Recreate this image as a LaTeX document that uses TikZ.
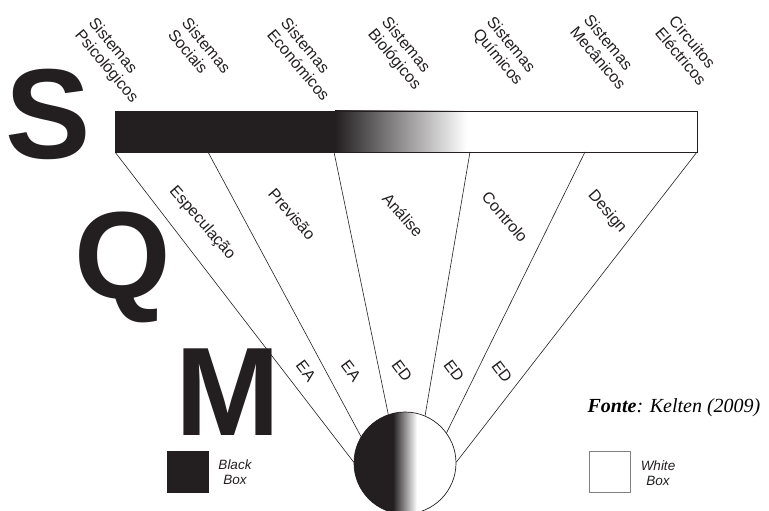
\documentclass[tikz,border=0pt]{standalone}
\usepackage{fontspec}
\setmainfont{Liberation Sans}
\newfontfamily\timesfont{Liberation Serif}
\definecolor{ink}{RGB}{35,31,32}
\tikzset{
  syslbl/.style={font=\fontsize{16}{18}\selectfont, text=ink, rotate=-50, align=left, inner sep=0, anchor=north west},
  raylbl/.style={font=\fontsize{16}{18}\selectfont, text=ink, rotate=-49, inner sep=0},
  eelbl/.style={font=\fontsize{16}{18}\selectfont, text=ink, rotate=-53, inner sep=0},
  bigletter/.style={text=ink, inner sep=0, anchor=base},
  ray/.style={draw=ink, line width=0.6pt},
  boxlbl/.style={font=\fontsize{13.5}{15.5}\selectfont\itshape, text=ink, align=center, inner sep=0},
}
\begin{document}
\begin{tikzpicture}[x=1pt,y=-1pt]
\useasboundingbox (0,0) rectangle (769,511);
% bar
\fill[ink] (115,111) rectangle (335,152);
\shade[left color=ink,right color=white] (335,111) rectangle (467,152);
\draw[ink, line width=0.6pt] (115,111) rectangle (697,152);
\coordinate (b1) at (115,152);
\coordinate (b2) at (208,152);
\coordinate (b3) at (334,152);
\coordinate (b4) at (470,152);
\coordinate (b5) at (585,152);
\coordinate (b6) at (697,152);
% circle
\begin{scope}
\clip (405,463) circle [radius=51pt];
\fill[ink] (350,405) rectangle (393,520);
\shade[left color=ink,right color=white] (393,405) rectangle (417,520);
\end{scope}
\node[circle, draw=ink, line width=0.7pt, minimum size=102pt, inner sep=0] (c) at (405,463) {};
% rays
\draw[ray] (b1) -- (c.179);
\draw[ray] (b2) -- (c.149);
\draw[ray] (b3) -- (c.109);
\draw[ray] (b4) -- (c.67);
\draw[ray] (b5) -- (c.36);
\draw[ray] (b6) -- (c.1);
% system labels
\node[syslbl] (s1) at (97,16) {Sistemas\\Psicológicos};
\node[syslbl] (s2) at (190,16) {Sistemas\\Sociais};
\node[syslbl] (s3) at (289,16) {Sistemas\\Económicos};
\node[syslbl] (s4) at (390,15) {Sistemas\\Biológicos};
\node[syslbl] (s5) at (495,15) {Sistemas\\Químicos};
\node[syslbl] (s6) at (592,13) {Sistemas\\Mecânicos};
\node[syslbl] (s7) at (677,14) {Circuitos\\Eléctricos};
% ray labels
\node[raylbl] (r1) at (202,223) {Especulação};
\node[raylbl] (r2) at (292,214) {Previsão};
\node[raylbl] (r3) at (403,215) {Análise};
\node[raylbl] (r4) at (505,217) {Controlo};
\node[raylbl] (r5) at (607,212) {Design};
\node[eelbl] (e1) at (306,371) {EA};
\node[eelbl] (e2) at (351,371) {EA};
\node[eelbl] (e3) at (402,371) {ED};
\node[eelbl] (e4) at (454,371) {ED};
\node[eelbl] (e5) at (502,372) {ED};
% big letters
\node[bigletter, font=\fontsize{128}{128}\selectfont\bfseries] (S) at (48,158.5) {S};
\node[bigletter, font=\fontsize{124}{124}\selectfont\bfseries] (Q) at (123,298.5) {Q};
\node[bigletter, font=\fontsize{126}{126}\selectfont\bfseries] (M) at (228,435) {M};
% legend
\node[draw=ink, fill=ink, minimum size=41pt, inner sep=0] (bb) at (187.5,472) {};
\node[boxlbl] (bbl) at (235,472) {Black\\Box};
\node[draw=gray, line width=0.8pt, fill=white, minimum size=41pt, inner sep=0] (wb) at (609.5,472) {};
\node[boxlbl] (wbl) at (658,473) {White\\Box};
% source
\node[font=\timesfont\fontsize{20}{22}\selectfont, text=black, inner sep=0] (src) at (674,408) {\textbf{\textit{Fonte}}\textit{: Kelten (2009)}};
\end{tikzpicture}
\end{document}
